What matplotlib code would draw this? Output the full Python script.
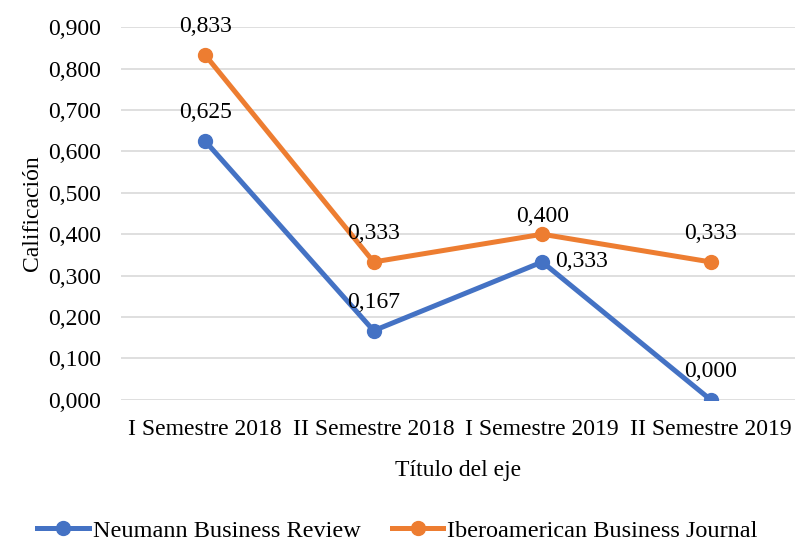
import matplotlib.pyplot as plt

# datos
categorias = ['I Semestre 2018', 'II Semestre 2018', 'I Semestre 2019', 'II Semestre 2019']
neumann = [0.625, 0.167, 0.333, 0.000]
ibero = [0.833, 0.333, 0.400, 0.333]
yticks = [0.0, 0.1, 0.2, 0.3, 0.4, 0.5, 0.6, 0.7, 0.8, 0.9]

plt.rcParams['font.family'] = ['Liberation Serif', 'DejaVu Serif']

fig = plt.figure(figsize=(7.95, 5.44), dpi=100)
ax = fig.add_axes([0.152, 0.265, 0.848, 0.685])

x = list(range(len(categorias)))
azul = '#4472C4'
naranja = '#ED7D31'
fs = 17

ax.plot(x, neumann, color=azul, linewidth=3.6, marker='o', markersize=10,
        label='Neumann Business Review', zorder=3)
ax.plot(x, ibero, color=naranja, linewidth=3.6, marker='o', markersize=10,
        label='Iberoamerican Business Journal', zorder=3)

fmt = lambda v: f'{v:.3f}'.replace('.', ',')

for i, v in enumerate(ibero):
    dy = 5 if i == 2 else 13
    ax.annotate(fmt(v), (x[i], v), xytext=(0, dy), textcoords='offset points',
                ha='center', va='bottom', fontsize=fs)
for i, v in enumerate(neumann):
    if i == 2:
        ax.annotate(fmt(v), (x[i], v), xytext=(9, 0), textcoords='offset points',
                    ha='left', va='center', fontsize=fs)
    else:
        ax.annotate(fmt(v), (x[i], v), xytext=(0, 13), textcoords='offset points',
                    ha='center', va='bottom', fontsize=fs)

ax.set_xlim(-0.5, len(categorias) - 0.5)
ax.set_ylim(0, 0.9)
ax.set_yticks(yticks)
ax.set_yticklabels([fmt(t) for t in yticks])
ax.set_xticks(x)
ax.set_xticklabels(categorias)
ax.tick_params(axis='both', labelsize=fs, length=0)
ax.tick_params(axis='x', pad=14)
ax.tick_params(axis='y', pad=14)

ax.grid(axis='y', color='#D9D9D9', linewidth=1.2, zorder=0)
for s in ax.spines.values():
    s.set_visible(False)

ax.set_xlabel('Título del eje', fontsize=fs, labelpad=14)
ax.set_ylabel('Calificación', fontsize=fs, labelpad=4)

fig.legend(loc='center', bbox_to_anchor=(0.5, 0.024), ncol=2, frameon=False,
           fontsize=17.5, handlelength=2.1, handletextpad=0.17, columnspacing=1.3,
           borderpad=0)

fig.savefig('out.png', dpi=100)
